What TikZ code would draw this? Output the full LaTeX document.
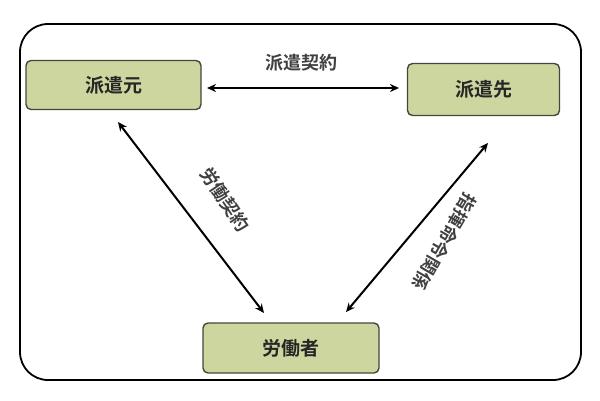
\documentclass[tikz,border=0pt]{standalone}
\usepackage{fontspec}
\usetikzlibrary{arrows.meta}
\newfontfamily\cjk{Noto Sans CJK JP}[BoldFont={Noto Sans CJK JP Bold}]
\definecolor{boxfill}{RGB}{206,214,160}
\definecolor{boxline}{RGB}{70,70,60}
\begin{document}
\begin{tikzpicture}[x=1pt,y=-1pt,
  ent/.style={draw=boxline,line width=1.4pt,fill=boxfill,rounded corners=5pt,font=\cjk\bfseries\fontsize{19}{22}\selectfont,text=black!85},
  rel/.style={line width=2pt,{Stealth[length=9pt,width=8pt]}-{Stealth[length=9pt,width=8pt]}},
  lab/.style={font=\cjk\bfseries\fontsize{18}{21}\selectfont,text=black!75}]
\useasboundingbox (0,0) rectangle (600,400);
\draw[line width=1.8pt,rounded corners=28pt] (20,24) rectangle (581,380);
\node[ent,minimum width=175pt,minimum height=49pt] (moto) at (113.5,85) {派遣元};
\node[ent,minimum width=152pt,minimum height=52pt] (saki) at (483.5,89.5) {派遣先};
\node[ent,minimum width=176pt,minimum height=50pt] (rodo) at (291,348) {労働者};
\coordinate (a1) at (207,88); \coordinate (a2) at (399,88);
\coordinate (b1) at (118,122); \coordinate (b2) at (264,313);
\coordinate (c1) at (488,143); \coordinate (c2) at (346,312);
\draw[rel] (a1) -- (a2);
\draw[rel] (b1) -- (b2);
\draw[rel] (c1) -- (c2);
\node[lab] (l1) at (301,63) {派遣契約};
\node[lab,rotate=-56] (l2) at (225,200) {労働契約};
\node[lab,rotate=-120] (l3) at (444,242) {指揮命令関係};
\end{tikzpicture}
\end{document}
